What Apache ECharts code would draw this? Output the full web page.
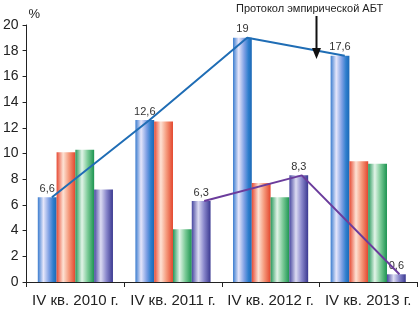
<!DOCTYPE html>
<html><head><meta charset="utf-8">
<script src="https://cdn.jsdelivr.net/npm/echarts@6/dist/echarts.min.js"></script>
<style>html,body{margin:0;padding:0;background:#fff}#c{width:418px;height:311px}</style>
</head><body><div id="c"></div>
<script>
const categories = ['IV кв. 2010 г.', 'IV кв. 2011 г.', 'IV кв. 2012 г.', 'IV кв. 2013 г.'];
const blueValues = [6.6, 12.6, 19, 17.6];
const redValues = [10.1, 12.5, 7.7, 9.4];
const greenValues = [10.3, 4.1, 6.6, 9.2];
const purpleValues = [7.2, 6.3, 8.3, 0.6];
const purpleLabeled = [false, true, true, true];
const yTicks = [0, 2, 4, 6, 8, 10, 12, 14, 16, 18, 20];
const annotationText = 'Протокол эмпирической АБТ';

const FONT = '"Liberation Sans Narrow", "Arial Narrow", "Liberation Sans", sans-serif';
function grad(stops) {
  return new echarts.graphic.LinearGradient(0, 0, 1, 0, stops.map(s => ({offset: s[0], color: s[1]})));
}
const blueFill = grad([[0,'#3a7ccf'],[0.3,'#e6e6fa'],[0.6,'#7d9fe4'],[0.82,'#2e7ecd'],[1,'#1b68b5']]);
const redFill = grad([[0,'#e64a34'],[0.35,'#fde2d4'],[0.65,'#f59a7c'],[1,'#e3462d']]);
const greenFill = grad([[0,'#26985a'],[0.35,'#e2f4e8'],[0.65,'#7ccb98'],[1,'#1c9450']]);
const purpleFill = grad([[0,'#4848a0'],[0.35,'#dcdcf2'],[0.65,'#8a88cc'],[1,'#3a3890']]);

const fmt = v => String(v).replace('.', ',');
const labelStyle = {show: true, position: 'top', distance: 3, fontFamily: FONT, fontSize: 11, color: '#333',
  formatter: p => fmt(p.value)};

const blueOffset = 0.26, purpleOffset = 0.82;
const blueLine = blueValues.map((v, i) => [i + blueOffset, v]);
const purpleLine = purpleValues.map((v, i) => purpleLabeled[i] ? [i + purpleOffset, v] : null).filter(Boolean);

const chart = echarts.init(document.getElementById('c'), null, {renderer: 'canvas'});
chart.setOption({
  animation: false,
  grid: {left: 25, right: 1, top: 25, bottom: 29, containLabel: false},
  xAxis: [{
    type: 'category', data: categories,
    axisLine: {lineStyle: {color: '#222', width: 1}},
    axisTick: {show: true, length: 5, lineStyle: {color: '#222'}},
    axisLabel: {fontFamily: FONT, fontSize: 15, color: '#222', margin: 11, interval: 0}
  }, {
    type: 'value', min: 0, max: 4, show: false
  }],
  yAxis: {
    type: 'value', min: yTicks[0], max: yTicks[yTicks.length - 1], interval: 2,
    name: '%', nameLocation: 'end', nameGap: 4,
    nameTextStyle: {fontFamily: FONT, fontSize: 13, color: '#222', align: 'left', padding: [0, 0, 0, 2]},
    axisLine: {show: true, lineStyle: {color: '#222'}},
    axisTick: {show: true, length: 4, lineStyle: {color: '#222'}},
    splitLine: {show: false},
    axisLabel: {fontFamily: FONT, fontSize: 14, color: '#222', margin: 8, padding: [0, 0, 10, 0]}
  },
  series: [
    {type: 'bar', data: blueValues, barGap: '0%', barCategoryGap: '23%', itemStyle: {color: blueFill}, label: labelStyle},
    {type: 'bar', data: redValues, itemStyle: {color: redFill}},
    {type: 'bar', data: greenValues, itemStyle: {color: greenFill}},
    {type: 'bar', data: purpleValues.map((v, i) => ({value: v, label: {show: purpleLabeled[i]}})), itemStyle: {color: purpleFill}, label: labelStyle},
    {type: 'line', xAxisIndex: 1, data: blueLine, symbol: 'none', lineStyle: {color: '#1f6db5', width: 2}, z: 5},
    {type: 'line', xAxisIndex: 1, data: purpleLine, symbol: 'none', lineStyle: {color: '#6b3c9c', width: 2}, z: 5}
  ],
  graphic: [
    {type: 'text', left: 236, top: 3, style: {text: annotationText, fontFamily: FONT, fontSize: 11, fill: '#222'}},
    {type: 'line', shape: {x1: 316.5, y1: 16, x2: 316.5, y2: 50}, style: {stroke: '#111', lineWidth: 2}, z: 10},
    {type: 'polygon', shape: {points: [[312, 48], [321, 48], [316.5, 59]]}, style: {fill: '#111'}, z: 10}
  ]
});
</script></body></html>
